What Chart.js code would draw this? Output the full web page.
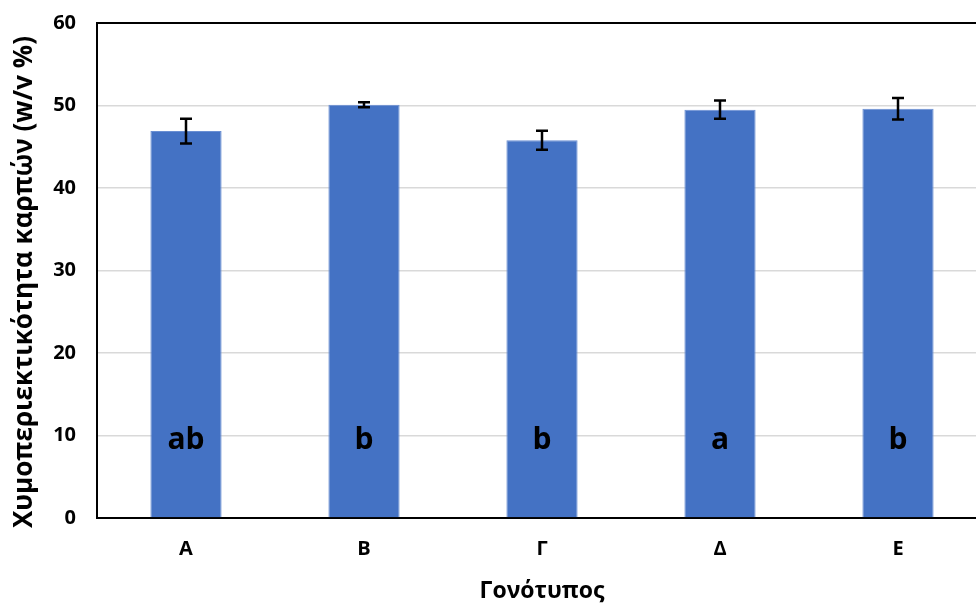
<!DOCTYPE html>
<html>
<head>
<meta charset="utf-8">
<script src="https://cdn.jsdelivr.net/npm/chart.js@4"></script>
<style>
  html, body { margin: 0; padding: 0; background: #fff; overflow: hidden; }
  #wrap { width: 976px; height: 605px; overflow: hidden; }
</style>
</head>
<body>
<div id="wrap"><canvas id="c" width="995" height="605"></canvas></div>
<script>
// Fruit juice content per genotype
const genotypes = ['Α', 'Β', 'Γ', 'Δ', 'Ε'];
const juiceContent = [46.9, 50.1, 45.8, 49.5, 49.6];
const juiceError = [1.5, 0.3, 1.15, 1.1, 1.3];
const groupLetters = ['ab', 'b', 'b', 'a', 'b'];
const yTicks = [0, 10, 20, 30, 40, 50, 60];

const FONT = '"Open Sans", "DejaVu Sans", sans-serif';

// Error bars, significance letters, axis titles and the top frame line
const extras = {
  id: 'extras',
  afterDatasetsDraw(chart) {
    const ctx = chart.ctx;
    const meta = chart.getDatasetMeta(0);
    const y = chart.scales.y;
    const area = chart.chartArea;
    ctx.save();
    // top frame
    ctx.strokeStyle = '#000';
    ctx.lineWidth = 2;
    ctx.beginPath();
    ctx.moveTo(area.left - 1, area.top);
    ctx.lineTo(area.right, area.top);
    ctx.stroke();

    meta.data.forEach((bar, i) => {
      const v = juiceContent[i], e = juiceError[i];
      const yTop = y.getPixelForValue(v + e);
      const yBot = y.getPixelForValue(v - e);
      const cx = bar.x;
      ctx.strokeStyle = '#000';
      ctx.lineWidth = 2.5;
      ctx.beginPath();
      ctx.moveTo(cx, yTop); ctx.lineTo(cx, yBot);
      ctx.moveTo(cx - 6, yTop); ctx.lineTo(cx + 6, yTop);
      ctx.moveTo(cx - 6, yBot); ctx.lineTo(cx + 6, yBot);
      ctx.stroke();

      ctx.fillStyle = '#000';
      ctx.font = 'bold 30px ' + FONT;
      ctx.textAlign = 'center';
      ctx.textBaseline = 'alphabetic';
      ctx.fillText(groupLetters[i], cx, y.getPixelForValue(8.4));
    });

    // axis titles
    ctx.fillStyle = '#000';
    ctx.font = 'bold 23px ' + FONT;
    ctx.textAlign = 'center';
    ctx.textBaseline = 'middle';
    ctx.fillText('Γονότυπος', (area.left + area.right) / 2, 591);

    ctx.translate(25, 282);
    ctx.rotate(-Math.PI / 2);
    ctx.font = 'bold 26px ' + FONT;
    ctx.fillText('Χυμοπεριεκτικότητα καρπών (w/v %)', 0, 0);
    ctx.restore();
  }
};

new Chart(document.getElementById('c'), {
  type: 'bar',
  data: {
    labels: genotypes,
    datasets: [{
      data: juiceContent,
      backgroundColor: '#4472C4',
      borderColor: '#6a8fd3',
      borderWidth: { left: 1, right: 1, top: 1, bottom: 0 },
      barPercentage: 0.4,
      categoryPercentage: 1.0
    }]
  },
  options: {
    responsive: false,
    animation: false,
    layout: { padding: { top: 23, right: 8, left: 0, bottom: 0 } },
    plugins: { legend: { display: false }, tooltip: { enabled: false } },
    scales: {
      x: {
        offset: true,
        grid: { display: false, drawTicks: false },
        border: { color: '#000', width: 2 },
        ticks: { color: '#000', font: { family: FONT, weight: 'bold', size: 20 }, padding: 19 },
        afterFit(scale) { scale.height = 87; scale.paddingLeft = 0; scale.paddingRight = 0; }
      },
      y: {
        min: 0, max: 60,
        afterBuildTicks(scale) { scale.ticks = yTicks.map(v => ({ value: v })); },
        grid: { color: '#d9d9d9', lineWidth: 1.5, drawTicks: false },
        border: { color: '#000', width: 2 },
        ticks: { color: '#000', font: { family: FONT, weight: 'bold', size: 20 }, padding: 21 },
        afterFit(scale) { scale.width = 97; scale.paddingTop = 0; scale.paddingBottom = 0; }
      }
    }
  },
  plugins: [extras]
});
</script>
</body>
</html>
